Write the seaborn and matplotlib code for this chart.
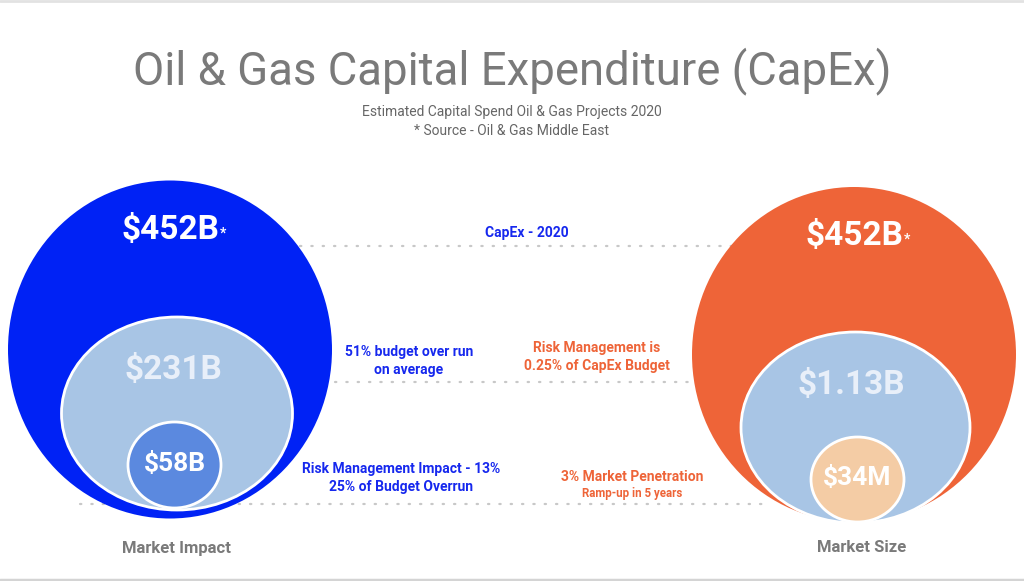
import matplotlib
matplotlib.use('Agg')
import matplotlib.pyplot as plt
from matplotlib.patches import Ellipse
import seaborn as sns

# ---- data ----
title = 'Oil & Gas Capital Expenditure (CapEx)'
subtitle = ['Estimated Capital Spend Oil & Gas Projects 2020',
            '* Source - Oil & Gas Middle East']

impact_labels = ['$452B', '$231B', '$58B']
size_labels = ['$452B', '$1.13B', '$34M']
group_names = ['Market Impact', 'Market Size']

impact_notes = ['CapEx - 2020',
                '51% budget over run\non average',
                'Risk Management Impact - 13%\n25% of Budget Overrun']
size_notes = ['Risk Management is\n0.25% of CapEx Budget',
              '3% Market Penetration']
size_subnote = 'Ramp-up in 5 years'

# ---- style ----
sns.set_theme(style='white')
plt.rcParams['font.family'] = ['Roboto', 'DejaVu Sans']

impact_colors = sns.color_palette(['#0022f5', '#a8c5e5', '#5b89df'])
size_colors = sns.color_palette(['#ee6438', '#a8c5e5', '#f4cca5'])
blue_txt = '#1628ee'
orange_txt = '#ee6438'
grey_txt = '#7a7a7a'

# ---- layout (pixel space, y grows downward) ----
W, H = 1024, 581
fig = plt.figure(figsize=(W / 100, H / 100), dpi=100)
ax = fig.add_axes([0, 0, 1, 1])
ax.set_xlim(0, W)
ax.set_ylim(H, 0)
ax.axis('off')

# ring geometry per group: (cx, cy, width, height)
impact_rings = [(170, 349.5, 324, 338), (177, 413.5, 231, 193), (174.5, 465, 93, 86)]
size_rings = [(854, 354.5, 324, 335), (855.5, 427.5, 229, 191), (857.5, 479.5, 93, 85)]
impact_label_y = [230, 370, 464]
size_label_y = [236, 385, 478]
label_sizes = [24, 24, 19]
label_colors = ['white', '#e8eff9', 'white']


def draw_rings(rings, colors, labels, label_y):
    for i, ((cx, cy, w, h), c) in enumerate(zip(rings, colors)):
        ax.add_patch(Ellipse((cx, cy), w, h, facecolor=c,
                             edgecolor='white' if i else 'none',
                             linewidth=2, zorder=2 + i))
    for i, (lab, y) in enumerate(zip(labels, label_y)):
        cx = rings[i][0] - (4 if i == 1 else 0)
        t = ax.text(cx, y, lab, ha='center', va='center', color=label_colors[i],
                    fontsize=label_sizes[i], fontweight='bold', zorder=10)
        if i == 0:
            ax.annotate('*', xy=(1, 0.38), xycoords=t, xytext=(0.5, 0),
                        textcoords='offset points', ha='left', va='center',
                        color='white', fontsize=10, fontweight='bold', zorder=10)


draw_rings(impact_rings, impact_colors, impact_labels, impact_label_y)
draw_rings(size_rings, size_colors, size_labels, size_label_y)

# dotted guide lines
guides = [(300, 733, 246), (335, 695, 382), (80, 769, 504)]
for x0, x1, y in guides:
    ax.plot([x0, x1], [y, y], color='#c8c8c8', linewidth=1.6,
            linestyle=(0, (0.6, 4.5)), dash_capstyle='round', zorder=1)

# titles
ax.text(512, 71, title, ha='center', va='center', color=grey_txt,
        fontsize=32.8, fontweight='normal')
ax.text(512, 112, subtitle[0], ha='center', va='center', color='#666666', fontsize=10)
ax.text(512, 131, subtitle[1], ha='center', va='center', color='#666666', fontsize=10)

# notes
ax.text(527, 233, impact_notes[0], ha='center', va='center', color=blue_txt,
        fontsize=10, fontweight='bold')
ax.text(409, 361, impact_notes[1], ha='center', va='center', color=blue_txt,
        fontsize=10, fontweight='bold', linespacing=1.4)
ax.text(401, 478, impact_notes[2], ha='center', va='center', color=blue_txt,
        fontsize=10, fontweight='bold', linespacing=1.4)
ax.text(597, 357, size_notes[0], ha='center', va='center', color=orange_txt,
        fontsize=10, fontweight='bold', linespacing=1.4)
ax.text(632, 477, size_notes[1], ha='center', va='center', color=orange_txt,
        fontsize=10, fontweight='bold')
ax.text(632, 494, size_subnote, ha='center', va='center', color=orange_txt,
        fontsize=8.3, fontweight='bold')

# group captions
ax.text(177, 548, group_names[0], ha='center', va='center', color=grey_txt,
        fontsize=12, fontweight='bold')
ax.text(862, 548, group_names[1], ha='center', va='center', color=grey_txt,
        fontsize=12, fontweight='bold')

# frame lines of the slide
ax.plot([0, W], [1, 1], color='#e2e2e2', linewidth=2)
ax.plot([0, W], [579.5, 579.5], color='#d4d4d4', linewidth=2.5)

fig.savefig('out.png', dpi=100)
